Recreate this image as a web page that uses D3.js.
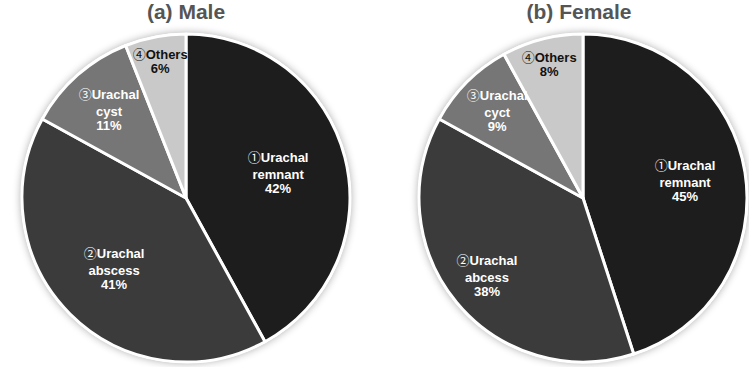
<!DOCTYPE html>
<html>
<head>
<meta charset="utf-8">
<script src="https://cdn.jsdelivr.net/npm/d3@7"></script>
<style>
  body { margin: 0; background: #fff; }
  text { font-family: "Liberation Sans", Arial, sans-serif; font-weight: bold; }
  .num { font-family: "Noto Sans CJK JP", "DejaVu Sans", sans-serif; font-weight: normal; }
</style>
</head>
<body>
<div id="chart"></div>
<script>
// categories, in drawing order (clockwise from 12 o'clock)
const categories = ['remnant', 'abscess', 'cyst', 'others'];
const markers = ['①', '②', '③', '④'];
const maleLabels = [['Urachal', 'remnant'], ['Urachal', 'abscess'], ['Urachal', 'cyst'], ['Others']];
const femaleLabels = [['Urachal', 'remnant'], ['Urachal', 'abcess'], ['Urachal', 'cyct'], ['Others']];
const maleValues = [42, 41, 11, 6];
const femaleValues = [45, 38, 9, 8];

const w = 749, h = 367;
const svg = d3.select('#chart').append('svg')
  .attr('width', w)
  .attr('height', h);

// soft shadow round each pie
let defs = svg.append('defs');
let filter = defs.append('filter').attr('id', 'shadow')
  .attr('x', '-10%').attr('y', '-10%').attr('width', '120%').attr('height', '120%');
filter.append('feGaussianBlur').attr('in', 'SourceAlpha').attr('stdDeviation', 4).attr('result', 'blur');
filter.append('feComponentTransfer').attr('in', 'blur').attr('result', 'soft')
  .append('feFuncA').attr('type', 'linear').attr('slope', 0.35);
let merge = filter.append('feMerge');
merge.append('feMergeNode').attr('in', 'soft');
merge.append('feMergeNode').attr('in', 'SourceGraphic');

const color = d3.scaleOrdinal()
  .domain(categories)
  .range(['#1d1d1d', '#3b3b3b', '#767676', '#c9c9c9']);
const textColor = d3.scaleOrdinal()
  .domain(categories)
  .range(['#fff', '#fff', '#fff', '#111']);

function drawPie(values, labels, title, cx, titleX, labelRadii) {
  const r = 164;
  const cy = 198;

  svg.append('text')
    .attr('x', titleX)
    .attr('y', 19)
    .attr('text-anchor', 'middle')
    .attr('font-size', 21)
    .attr('fill', '#555')
    .text(title);

  const g = svg.append('g').attr('transform', `translate(${cx}, ${cy})`);

  const pie = d3.pie().sort(null).value(d => d.value);
  const arcs = pie(categories.map((c, i) => ({ key: c, value: values[i], label: labels[i], mark: markers[i] })));
  const arc = d3.arc().innerRadius(0).outerRadius(r);

  g.append('circle')
    .attr('r', r + 1)
    .attr('fill', '#e4e4e4')
    .attr('filter', 'url(#shadow)');

  g.selectAll('path.slice')
    .data(arcs)
    .enter()
    .append('path')
      .attr('class', 'slice')
      .attr('d', arc)
      .attr('fill', d => color(d.data.key))
      .attr('stroke', '#fff')
      .attr('stroke-width', 3)
      .attr('stroke-linejoin', 'round');

  let lab = g.selectAll('text.lab')
    .data(arcs)
    .enter()
    .append('text')
      .attr('class', 'lab')
      .attr('font-size', 13)
      .attr('fill', d => textColor(d.data.key))
      .attr('transform', (d, i) => {
        const a = d3.arc().innerRadius(r * labelRadii[i]).outerRadius(r * labelRadii[i]);
        const [x, y] = a.centroid(d);
        const n = d.data.label.length + 1;
        return `translate(${x}, ${y - (n - 1) * 16 / 2 + 4})`;
      });

  lab.each(function(d) {
    const t = d3.select(this);
    const lines = d.data.label.concat([d.value + '%']);
    lines.forEach((s, k) => {
      const line = t.append('tspan')
        .attr('x', 0)
        .attr('text-anchor', 'middle')
        .attr('dy', k === 0 ? 0 : (k === lines.length - 1 ? 14 : 17));
      if (k === 0) {
        line.append('tspan').attr('class', 'num').text(d.data.mark);
        line.append('tspan').text(s);
      } else {
        line.text(s);
      }
    });
  });
}

drawPie(maleValues, maleLabels, '(a) Male', 186, 186, [0.58, 0.62, 0.71, 0.84]);
drawPie(femaleValues, femaleLabels, '(b) Female', 583, 579, [0.63, 0.76, 0.74, 0.83]);
</script>
</body>
</html>
